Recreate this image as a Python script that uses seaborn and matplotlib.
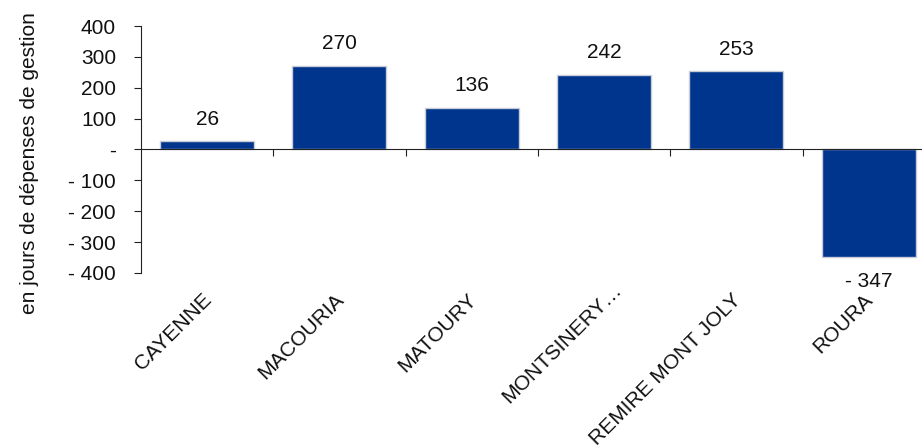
import matplotlib
matplotlib.use("Agg")
import matplotlib.pyplot as plt
import matplotlib.transforms as mtransforms
import seaborn as sns
import pandas as pd

communes = ["CAYENNE", "MACOURIA", "MATOURY", "MONTSINERY…", "REMIRE MONT JOLY", "ROURA"]
valeurs = [26, 270, 136, 242, 253, -347]
y_ticks = [400, 300, 200, 100, 0, -100, -200, -300, -400]
y_label = "en jours de dépenses de gestion"

def fmt(v):
    if v == 0:
        return "-"
    if v < 0:
        return "- " + str(abs(v))
    return str(v)

sns.set_theme(style="white")
plt.rcParams["font.family"] = ["Liberation Sans", "DejaVu Sans"]

FS = 15
TXT = "#111111"

df = pd.DataFrame({"commune": communes, "valeur": valeurs})

fig = plt.figure(figsize=(9.22, 4.48), dpi=100)
ax = fig.add_axes([141/922, 1-273/448, (6*132.3)/922, (273-26)/448])

sns.barplot(data=df, x="commune", y="valeur", color="#00358E", saturation=1,
            width=0.71, edgecolor="#C9CCD6", linewidth=1.0, ax=ax)

ax.set_xlim(-0.5, 5.5)
ax.set_ylim(-400, 400)
ax.set_yticks(y_ticks)
ax.set_yticklabels([fmt(t) for t in y_ticks], fontsize=FS, color=TXT)
ax.tick_params(axis="y", direction="out", length=5, width=0.8, color="#222222", left=True, pad=13)

ax.spines["top"].set_visible(False)
ax.spines["right"].set_visible(False)
ax.spines["left"].set_color("#222222")
ax.spines["left"].set_linewidth(0.8)
ax.spines["bottom"].set_position(("data", 0))
ax.spines["bottom"].set_color("#222222")
ax.spines["bottom"].set_linewidth(0.8)

ax.set_xticks([i + 0.5 for i in range(len(communes))])
ax.set_xticklabels([])
ax.tick_params(axis="x", direction="out", length=5, width=0.8, color="#222222", bottom=True)
ax.set_xlabel("")
ax.set_ylabel("")
fig.text(30/922, 1-163/448, y_label, rotation=90, ha="center", va="center",
         fontsize=15, color=TXT)

trans = mtransforms.blended_transform_factory(ax.transData, ax.transAxes)
for i, name in enumerate(communes):
    dx, dy = (0.1, 0.04) if name.endswith("…") else (0.0, 0.0)
    ax.text(i - 0.04 + dx, -0.07 + dy, name, transform=trans, rotation=45, ha="right", va="top",
            rotation_mode="anchor", fontsize=FS, color=TXT)

for i, v in enumerate(valeurs):
    if v >= 0:
        ax.annotate(fmt(v), (i, v), xytext=(0, 16), textcoords="offset points",
                    ha="center", va="center", fontsize=FS, color=TXT)
    else:
        ax.annotate(fmt(v), (i, v), xytext=(0, -18), textcoords="offset points",
                    ha="center", va="center", fontsize=FS, color=TXT)

fig.savefig("out.png", dpi=100)
